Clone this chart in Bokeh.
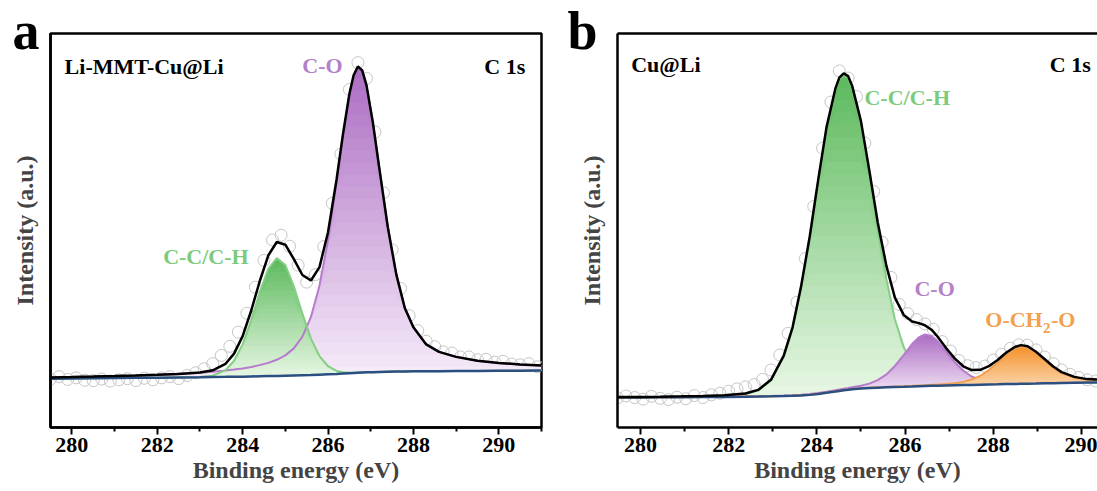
import numpy as np
from bokeh.plotting import figure
from bokeh.models import Range1d, FixedTicker, LinearAxis, Label, Title
from bokeh.layouts import row
from bokeh.embed import file_html
from bokeh.resources import INLINE

# ---------------- data: panel a (Li-MMT-Cu@Li) ----------------
a_energy = [279.5, 280.0, 280.5, 281.0, 281.5, 282.0, 282.5, 283.0, 283.3, 283.6, 283.8, 284.0,
            284.2, 284.4, 284.6, 284.8, 285.0, 285.2, 285.4, 285.6, 285.8, 286.0, 286.2, 286.35,
            286.5, 286.6, 286.7, 286.8, 286.9, 287.05, 287.2, 287.4, 287.6, 287.8, 288.0, 288.3,
            288.6, 289.0, 289.5, 290.0, 290.5, 291.0]
a_background = [12.4, 12.45, 12.5, 12.55, 12.6, 12.65, 12.7, 12.75, 12.8, 12.85, 12.9, 12.9,
                12.95, 13.0, 13.05, 13.1, 13.15, 13.2, 13.25, 13.3, 13.4, 13.5, 13.6, 13.7,
                13.8, 13.85, 13.9, 13.95, 14.0, 14.05, 14.1, 14.15, 14.2, 14.22, 14.25, 14.28,
                14.3, 14.33, 14.36, 14.4, 14.42, 14.45]
a_cc = [0, 0, 0, 0, 0, 0, 0, 0.05, 0.35, 1.70, 4.03, 8.19,
        14.26, 21.29, 27.24, 29.89, 28.09, 22.64, 15.64, 9.27, 4.70, 2.05, 0.76, 0.33,
        0.13, 0.06, 0.03, 0, 0, 0, 0, 0, 0, 0, 0, 0,
        0, 0, 0, 0, 0, 0]
a_co = [0.31, 0.36, 0.42, 0.50, 0.59, 0.72, 0.90, 1.15, 1.36, 1.62, 1.83, 2.10,
        2.42, 2.83, 3.36, 4.09, 5.16, 6.88, 9.81, 14.75, 22.6, 34.0, 48.6, 60.4,
        70.7, 75.5, 77.7, 76.7, 72.9, 63.4, 51.8, 36.7, 24.6, 16.06, 11.2, 6.8,
        4.9, 3.6, 2.6, 2.0, 1.6, 1.3]
a_raw_energy = [279.5, 279.7, 279.9, 280.1, 280.3, 280.5, 280.7, 280.9, 281.1, 281.3, 281.5, 281.7,
                281.9, 282.1, 282.3, 282.5, 282.7, 282.9, 283.1, 283.3, 283.5, 283.7, 283.9, 284.1,
                284.3, 284.5, 284.7, 284.9, 285.1, 285.3, 285.5, 285.7, 285.9, 286.1, 286.3, 286.5,
                286.7, 286.9, 287.1, 287.3, 287.5, 287.7, 287.9, 288.1, 288.3, 288.5, 288.7, 288.9,
                289.1, 289.3, 289.5, 289.7, 289.9, 290.1, 290.3, 290.5, 290.7, 290.9, 291.1]
a_raw = [12.3, 12.9, 12.2, 12.6, 12.0, 11.9, 12.3, 11.8, 12.1, 12.4, 11.9, 12.5,
         12.1, 12.6, 12.9, 12.4, 13.2, 13.9, 14.9, 16.2, 18.3, 20.6, 24.2, 29.0,
         35.6, 42.4, 47.6, 48.8, 46.0, 41.2, 36.9, 38.8, 45.9, 56.9, 69.4, 85.8,
         92.6, 88.6, 75.0, 59.6, 45.1, 35.3, 28.4, 24.6, 21.9, 20.5, 19.2, 18.9,
         17.9, 17.9, 17.2, 17.3, 16.6, 16.8, 16.1, 15.9, 16.2, 15.4, 15.7]

# ---------------- data: panel b (Cu@Li) ----------------
b_energy = [279.48, 279.96, 280.45, 280.93, 281.41, 281.90, 282.38, 282.67, 282.96, 283.25, 283.45, 283.64,
            283.84, 284.03, 284.22, 284.42, 284.51, 284.61, 284.71, 284.80, 285.00, 285.19, 285.38, 285.58,
            285.77, 285.97, 286.16, 286.31, 286.45, 286.60, 286.74, 286.93, 287.13, 287.32, 287.51, 287.71,
            287.90, 288.10, 288.29, 288.49, 288.63, 288.78, 288.97, 289.17, 289.36, 289.55, 289.84, 290.13,
            290.52]
b_background = [7.6, 7.62, 7.65, 7.68, 7.72, 7.76, 7.82, 7.86, 7.91, 7.98, 8.04, 8.12,
                8.28, 8.5, 8.8, 9.12, 9.28, 9.43, 9.56, 9.68, 9.87, 10.0, 10.1, 10.2,
                10.28, 10.35, 10.42, 10.48, 10.53, 10.58, 10.62, 10.67, 10.72, 10.76, 10.8, 10.86,
                10.91, 10.96, 11.01, 11.05, 11.08, 11.11, 11.15, 11.2, 11.24, 11.28, 11.34, 11.4,
                11.48]
b_cc = [0.09, 0.11, 0.13, 0.17, 0.22, 0.32, 0.68, 1.55, 4.05, 10.08, 17.2, 27.3,
        40.0, 54.0, 67.1, 76.5, 79.1, 80.0, 79.1, 76.5, 67.1, 54.0, 40.0, 27.3,
        17.2, 10.08, 5.55, 3.45, 2.12, 1.33, 0.87, 0.55, 0.39, 0.32, 0.27, 0.24,
        0.21, 0.19, 0.17, 0.15, 0.14, 0.13, 0.12, 0.11, 0.10, 0.10, 0.09, 0.08,
        0.07]
b_co = [0.03, 0.03, 0.04, 0.05, 0.06, 0.07, 0.08, 0.10, 0.11, 0.13, 0.15, 0.17,
        0.20, 0.23, 0.27, 0.32, 0.35, 0.39, 0.44, 0.51, 0.72, 1.14, 1.92, 3.28,
        5.34, 8.0, 10.76, 12.37, 13.1, 12.67, 11.25, 8.56, 5.84, 3.64, 2.14, 1.26,
        0.78, 0.54, 0.41, 0.33, 0.29, 0.25, 0.22, 0.19, 0.17, 0.15, 0.12, 0.10,
        0.09]
b_och2o = [0.01, 0.01, 0.01, 0.02, 0.02, 0.02, 0.03, 0.03, 0.03, 0.04, 0.04, 0.04,
           0.05, 0.05, 0.06, 0.06, 0.06, 0.07, 0.07, 0.07, 0.08, 0.09, 0.10, 0.11,
           0.13, 0.15, 0.17, 0.19, 0.21, 0.25, 0.29, 0.37, 0.53, 0.82, 1.36, 2.28,
           3.66, 5.46, 7.39, 8.92, 9.4, 9.15, 7.75, 5.84, 3.99, 2.52, 1.3, 0.7,
           0.45]
b_raw_energy = [279.48, 279.67, 279.87, 280.06, 280.25, 280.45, 280.64, 280.83, 281.03, 281.22, 281.42, 281.61,
                281.80, 282.00, 282.19, 282.38, 282.58, 282.77, 282.96, 283.16, 283.35, 283.55, 283.74, 283.93,
                284.13, 284.32, 284.51, 284.71, 284.90, 285.09, 285.29, 285.48, 285.68, 285.87, 286.06, 286.26,
                286.45, 286.64, 286.84, 287.03, 287.22, 287.42, 287.61, 287.81, 288.00, 288.19, 288.39, 288.58,
                288.77, 288.97, 289.16, 289.36, 289.55, 289.74, 289.94, 290.13, 290.32, 290.52]
b_raw = [7.5, 8.0, 7.6, 7.2, 7.9, 7.4, 7.1, 7.7, 7.3, 8.1, 7.6, 8.3,
         8.7, 9.2, 9.8, 10.3, 10.9, 12.2, 14.6, 18.4, 23.9, 31.8, 42.9, 56.1,
         70.9, 82.6, 90.5, 88.7, 84.0, 72.2, 59.9, 47.0, 38.1, 31.2, 28.9, 27.4,
         26.3, 24.9, 21.8, 19.4, 17.0, 15.7, 15.2, 15.6, 17.1, 18.6, 20.1, 21.0,
         20.9, 19.7, 17.9, 16.2, 14.6, 13.5, 12.7, 12.1, 11.8, 11.6]

x_major_ticks = [280, 282, 284, 286, 288, 290]
x_minor_ticks = [279, 281, 283, 285, 287, 289, 291]

# ---------------- styling ----------------
SERIF = "Liberation Serif"
GREEN = ("#5fbb5f", "#e6f6e3", "#84cf84", "#7ccb7c")   # top, bottom, line, label
PURPLE = ("#ad6fc4", "#f5eaf8", "#b67ccb", "#b57fc9")
ORANGE = ("#f4942f", "#fee6cc", "#f2a04e", "#f3a04f")
BG_LINE = "#2b4f80"
RAW_COLOR = "#c6c6c6"


def hex_rgb(h):
    h = h.lstrip("#")
    return tuple(int(h[i:i + 2], 16) for i in (0, 2, 4))


def mix(c1, c2, t):
    a, b = hex_rgb(c1), hex_rgb(c2)
    return "#%02x%02x%02x" % tuple(int(round(a[i] + (b[i] - a[i]) * t)) for i in range(3))


def gradient_fill(p, x, lower, comp, colors, n=26):
    x = np.asarray(x, float)
    lower = np.asarray(lower, float)
    upper = lower + np.asarray(comp, float)
    base, top = lower.min(), upper.max()
    p.varea(x=x, y1=lower, y2=upper, fill_color=colors[1])
    for k in range(1, n):
        lev = base + (top - base) * k / n
        col = mix(colors[1], colors[0], k / (n - 1))
        y1 = np.where(upper >= lev, np.maximum(lower, lev), upper)
        p.varea(x=x, y1=y1, y2=upper, fill_color=col)
    return upper


def text(p, x, y, s, color="black", size=22, align="left", baseline="middle"):
    p.add_layout(Label(x=x, y=y, text=s, text_color=color, text_font=SERIF,
                       text_font_style="bold", text_font_size=f"{size}px",
                       text_align=align, text_baseline=baseline))


def panel_letter(p, s, offset):
    p.add_layout(Title(text=s, align="left", offset=offset, standoff=-54,
                       vertical_align="bottom", text_font=SERIF,
                       text_font_style="bold", text_font_size="54px",
                       text_color="black"), "above")


def make_fig(x_start, x_end, px_per_ev, left, right, outline=True):
    p = figure(frame_width=int(round((x_end - x_start) * px_per_ev)), frame_height=394,
               x_range=Range1d(x_start, x_end), y_range=Range1d(0, 100),
               output_backend="svg", toolbar_location=None,
               min_border_left=left, min_border_right=right,
               min_border_top=33, min_border_bottom=64,
               background_fill_color="white", border_fill_color="white")
    p.grid.visible = False
    p.outline_line_color = "black" if outline else None
    p.outline_line_width = 2.5
    xa = p.xaxis[0]
    xa.ticker = FixedTicker(ticks=x_major_ticks, minor_ticks=x_minor_ticks)
    xa.axis_line_width = 2.5
    xa.major_tick_line_width = 2
    xa.minor_tick_line_width = 2
    xa.major_tick_out = 7
    xa.major_tick_in = 0
    xa.minor_tick_out = 4
    xa.minor_tick_in = 0
    xa.major_label_text_font = SERIF
    xa.major_label_text_font_style = "bold"
    xa.major_label_text_font_size = "22px"
    xa.major_label_text_color = "black"
    xa.major_label_standoff = 3
    xa.axis_label = "Binding energy (eV)"
    xa.axis_label_text_font = SERIF
    xa.axis_label_text_font_style = "bold"
    xa.axis_label_text_font_size = "24px"
    xa.axis_label_standoff = 2
    ya = p.yaxis[0]
    ya.ticker = FixedTicker(ticks=[])
    ya.axis_line_width = 2.5
    ya.major_label_text_font_size = "0px"
    ya.axis_label = "Intensity (a.u.)"
    ya.axis_label_text_font = SERIF
    ya.axis_label_text_font_style = "bold"
    ya.axis_label_text_font_size = "24px"
    ya.axis_label_standoff = 13
    if not outline:
        top_ax = LinearAxis(ticker=FixedTicker(ticks=[]), axis_line_width=2.5,
                            major_label_text_font_size="0px")
        p.add_layout(top_ax, "above")
    return p


# ---------------- panel a ----------------
pa = make_fig(279.5, 291.0, 42.7, 50, 19, outline=True)
pa.scatter(a_raw_energy, a_raw, size=12, marker="circle", fill_color=None,
           line_color=RAW_COLOR, line_width=1)
up_co = gradient_fill(pa, a_energy, a_background, a_co, PURPLE)
up_cc = gradient_fill(pa, a_energy, a_background, a_cc, GREEN)
pa.line(a_energy, up_co, line_color=PURPLE[2], line_width=2)
pa.line(a_energy, up_cc, line_color=GREEN[2], line_width=2)
pa.line(a_energy, a_background, line_color=BG_LINE, line_width=2.5)
env_a = np.asarray(a_background) + np.asarray(a_cc) + np.asarray(a_co)
pa.line(a_energy, env_a, line_color="black", line_width=2.5)

panel_letter(pa, "a", -38)
text(pa, 279.83, 91.6, "Li-MMT-Cu@Li")
text(pa, 290.62, 91.6, "C 1s", align="right")
text(pa, 285.87, 92.0, "C-O", color=PURPLE[3], align="center")
text(pa, 283.14, 43.5, "C-C/C-H", color=GREEN[3], align="center")

# ---------------- panel b ----------------
b_start = 279.48
b_end = b_start + 480 / 44.1
pb = make_fig(b_start, b_end, 44.1, 57, 0, outline=False)
pb.scatter(b_raw_energy, b_raw, size=12, marker="circle", fill_color=None,
           line_color=RAW_COLOR, line_width=1)
up_bcc = gradient_fill(pb, b_energy, b_background, b_cc, GREEN)
pb.line(b_energy, up_bcc, line_color=GREEN[2], line_width=2)
up_bco = gradient_fill(pb, b_energy, b_background, b_co, PURPLE)
pb.line(b_energy, up_bco, line_color=PURPLE[2], line_width=2)
up_bo = gradient_fill(pb, b_energy, b_background, b_och2o, ORANGE)
pb.line(b_energy, up_bo, line_color=ORANGE[2], line_width=2)
pb.line(b_energy, b_background, line_color=BG_LINE, line_width=2.5)
env_b = (np.asarray(b_background) + np.asarray(b_cc) + np.asarray(b_co)
         + np.asarray(b_och2o))
pb.line(b_energy, env_b, line_color="black", line_width=2.5)

panel_letter(pb, "b", -50)
text(pb, 279.79, 92.1, "Cu@Li")
text(pb, 290.21, 92.1, "C 1s", align="right")
text(pb, 286.05, 83.8, "C-C/C-H", color=GREEN[3], align="center")
text(pb, 286.67, 35.4, "C-O", color=PURPLE[3], align="center")
text(pb, 287.82, 27.3, "O-CH", color=ORANGE[3])
text(pb, 289.13, 25.2, "2", color=ORANGE[3], size=15)
text(pb, 289.31, 27.3, "-O", color=ORANGE[3])

layout = row(pa, pb)
open("out.html", "w").write(file_html(layout, INLINE))
